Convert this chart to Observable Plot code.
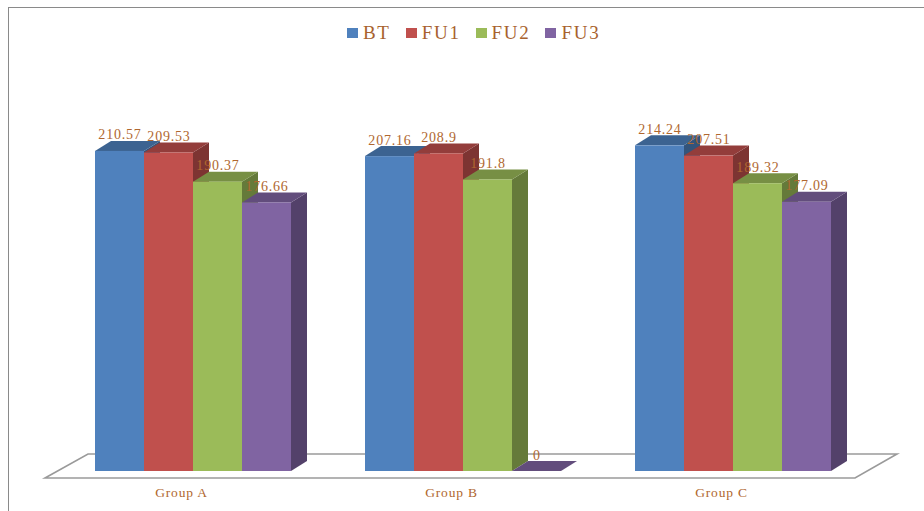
<!DOCTYPE html>
<html>
<head>
<meta charset="utf-8">
<script src="https://cdn.jsdelivr.net/npm/d3@7"></script>
<script src="https://cdn.jsdelivr.net/npm/@observablehq/plot@0.6"></script>
<style>
  html, body { margin: 0; padding: 0; background: #fff; }
  #wrap { position: relative; width: 924px; height: 511px; overflow: hidden; background: #fff; }
  #border { position: absolute; left: 7.5px; top: 6.5px; width: 940px; height: 540px; border-top: 1.6px solid #8a8a8a; border-left: 1.6px solid #8a8a8a; pointer-events: none; z-index: 3; }
  #legend { position: absolute; top: 22px; left: 347px; display: flex; align-items: center; font-family: "Liberation Serif", "Times New Roman", serif; font-size: 19px; color: #A8622E; z-index: 2; letter-spacing: 1.7px; }
  #legend .item { display: flex; align-items: center; margin-right: 15px; }
  #legend .sw { width: 11px; height: 10px; margin-right: 5px; }
  #chart { position: absolute; left: 0; top: 0; }
  #chart svg text { letter-spacing: 0.8px; }
</style>
</head>
<body>
<div id="wrap">
  <div id="border"></div>
  <div id="legend"></div>
  <div id="chart"></div>
</div>
<script>
const groups = ["Group A", "Group B", "Group C"];
const series = ["BT", "FU1", "FU2", "FU3"];
const BT  = [210.57, 207.16, 214.24];
const FU1 = [209.53, 208.9, 207.51];
const FU2 = [190.37, 191.8, 189.32];
const FU3 = [176.66, 0, 177.09];
const colors = ["#4F81BD", "#C0504D", "#9BBB59", "#8064A2"];
const labelColor = "#B0672F";

const seriesValues = {BT, FU1, FU2, FU3};
const data = [];
groups.forEach((g, gi) => series.forEach(s => data.push({group: g, series: s, value: seriesValues[s][gi]})));

const DX = 16, DY = 10; // 3D depth offsets (px)

function bars3d(index, scales, values) {
  const g = d3.create("svg:g");
  const bw = (scales.scales && scales.scales.x && scales.scales.x.bandwidth) || (scales.x.bandwidth ? scales.x.bandwidth() : 0);
  const X = values.x, Y1 = values.y1, Y2 = values.y2, F = values.fill;
  const order = Array.from(index).sort((a, b) => X[a] - X[b]);
  for (const i of order) {
    const x0 = X[i], x1 = x0 + bw;
    const yb = Math.max(Y1[i], Y2[i]), yt = Math.min(Y1[i], Y2[i]);
    const c = d3.color(F[i]);
    g.append("polygon")
      .attr("points", [[x1, yb], [x1 + DX, yb - DY], [x1 + DX, yt - DY], [x1, yt]].join(" "))
      .attr("fill", c.darker(1.2).formatHex());
    g.append("polygon")
      .attr("points", [[x0, yt], [x0 + DX, yt - DY], [x1 + DX, yt - DY], [x1, yt]].join(" "))
      .attr("fill", c.darker(0.75).formatHex());
    g.append("rect")
      .attr("x", x0).attr("y", yt).attr("width", bw).attr("height", yb - yt)
      .attr("fill", c.formatHex());
  }
  return g.node();
}

const chart = Plot.plot({
  width: 924,
  height: 511,
  marginTop: 91,
  marginBottom: 40,
  marginLeft: 58,
  marginRight: 56,
  style: {fontFamily: "'Liberation Serif', 'Times New Roman', serif", background: "transparent"},
  fx: {domain: groups, paddingInner: 0.274, paddingOuter: 0.137, axis: null, label: null},
  x: {domain: series, padding: 0, axis: null},
  y: {domain: [0, 250], axis: null},
  color: {domain: series, range: colors},
  marks: [
    Plot.barY(data, {fx: "group", x: "series", y: "value", fill: "series", render: bars3d}),
    Plot.text(data, {fx: "group", x: "series", y: "value", text: d => String(d.value), dy: -12, lineAnchor: "bottom", fill: labelColor, fontSize: 14}),
    Plot.text(groups, {fx: d => d, text: d => d, frameAnchor: "bottom", dx: -12, dy: 25, lineAnchor: "bottom", fill: labelColor, fontSize: 13.5})
  ]
});

// floor parallelogram placed on the y = 0 plane
const y0 = chart.scale("y").apply(0);
const left = 58, right = 924 - 56;
const svg = d3.select(chart);
svg.insert("polygon", ":first-child")
  .attr("points", [[left - 13, y0 + 7], [left + 30, y0 - 17], [right + 29, y0 - 17], [right - 13, y0 + 7]].join(" "))
  .attr("fill", "none").attr("stroke", "#9a9a9a").attr("stroke-width", 1.6);

document.getElementById("chart").appendChild(chart);

const legend = d3.select("#legend");
series.forEach((s, i) => {
  const it = legend.append("div").attr("class", "item");
  it.append("div").attr("class", "sw").style("background", colors[i]);
  it.append("span").text(s);
});
</script>
</body>
</html>
